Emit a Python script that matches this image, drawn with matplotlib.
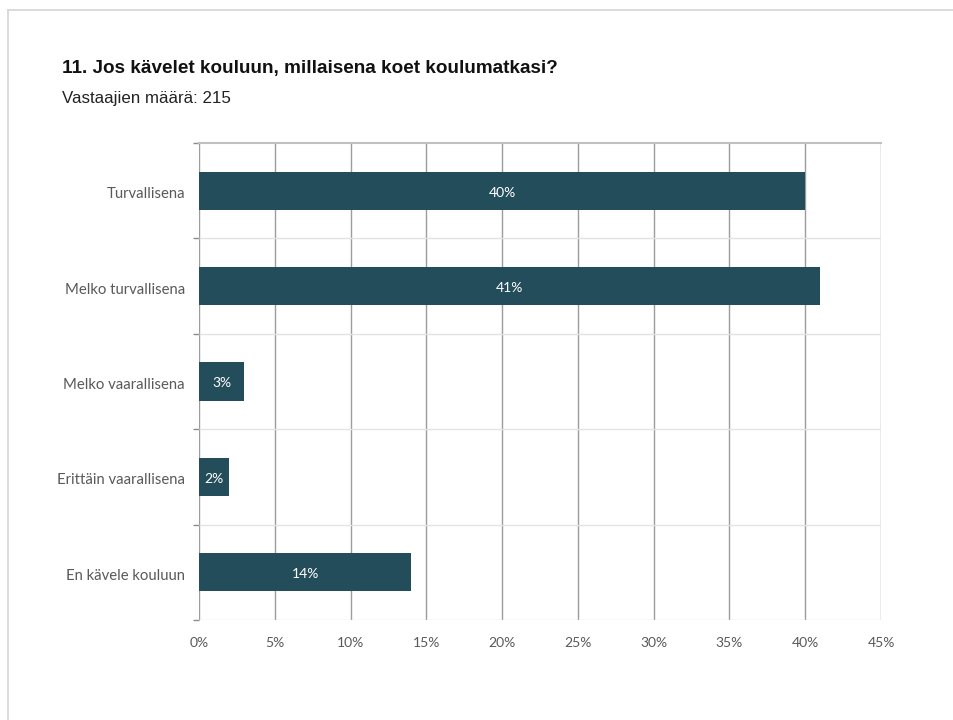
import matplotlib.pyplot as plt
import numpy as np
from matplotlib.lines import Line2D

categories = ["Turvallisena", "Melko turvallisena", "Melko vaarallisena",
              "Erittäin vaarallisena", "En kävele kouluun"]
shares = [40, 41, 3, 2, 14]
x_ticks = [0, 5, 10, 15, 20, 25, 30, 35, 40, 45]

title = "11. Jos kävelet kouluun, millaisena koet koulumatkasi?"
subtitle = "Vastaajien määrä: 215"

BAR = "#244d5b"
TEXT = "#595959"

fig = plt.figure(figsize=(9.54, 7.2), dpi=100)

# thin page frame along the top and left edges
fig.add_artist(Line2D([8 / 954, 1], [1 - 10 / 720] * 2, color="#d4d4d4", lw=1.2))
fig.add_artist(Line2D([8 / 954] * 2, [0, 1 - 10 / 720], color="#d4d4d4", lw=1.2))

fig.text(62 / 954, 1 - 68 / 720, title, fontsize=13.6, fontweight="bold",
         family="Liberation Sans", color="#111111", va="center")
fig.text(62 / 954, 1 - 98 / 720, subtitle, fontsize=12.2, family="Liberation Sans",
         color="#222222", va="center")

ax = fig.add_axes([199 / 954, 1 - 620 / 720, (881 - 199) / 954, (620 - 143) / 720])

y = np.arange(len(categories))
ax.barh(y, shares, height=0.4, color=BAR, zorder=3)
for yi, v in zip(y, shares):
    ax.text(v / 2, yi + 0.02, f"{v}%", color="white", ha="center", va="center",
            fontsize=10, family="Lato", zorder=4)

ax.set_xlim(0, 45)
ax.set_ylim(len(categories) - 0.5, -0.5)
ax.set_xticks(x_ticks)
ax.set_xticklabels([f"{t}%" for t in x_ticks], family="Lato", fontsize=10, color=TEXT)
ax.set_yticks(y + 0.02)
ax.set_yticklabels(categories, family="Lato", fontsize=10.7, color=TEXT)
ax.set_yticks(np.arange(len(categories) + 1) - 0.5, minor=True)

ax.tick_params(axis="x", length=0, pad=12)
ax.tick_params(axis="y", which="major", length=0, pad=10)
ax.tick_params(axis="y", which="minor", length=4, color="#8c8c8c", width=1)

# vertical gridlines and light band separators
for t in x_ticks:
    ax.axvline(t, color="#9c9c9c", lw=1, zorder=1)
for b in np.arange(1, len(categories)) - 0.5:
    ax.axhline(b, color="#e3e3e3", lw=1, zorder=1)

for s in ["right", "left", "bottom"]:
    ax.spines[s].set_visible(False)
ax.spines["top"].set_color("#c0c0c0")
ax.spines["top"].set_linewidth(1.5)
ax.axhline(len(categories) - 0.5, color="#e3e3e3", lw=1, zorder=1)

fig.savefig("out.png", dpi=100, facecolor="white")
